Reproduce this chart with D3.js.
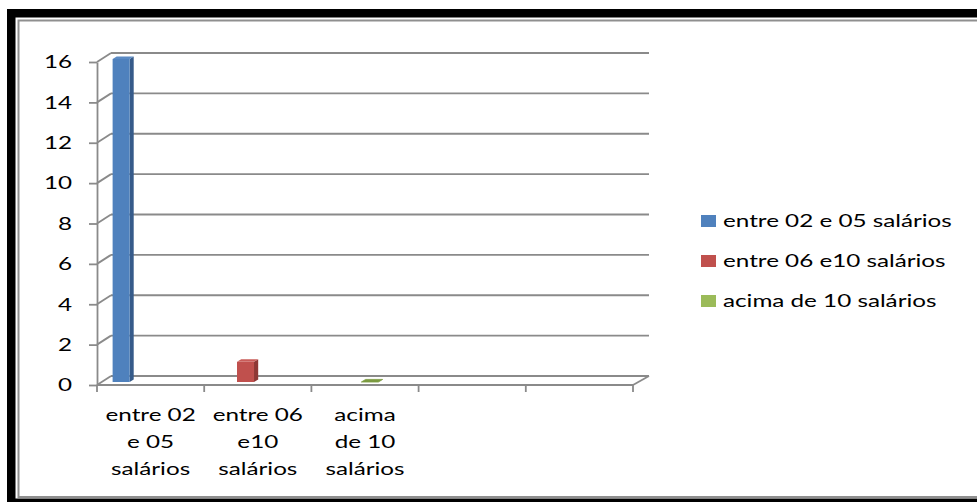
<!DOCTYPE html>
<html><head><meta charset="utf-8">
<script src="https://cdn.jsdelivr.net/npm/d3@7"></script>
<style>body{margin:0;background:#fff;overflow:hidden} svg{display:block}</style>
</head><body>
<svg id="chart" width="977" height="502"></svg>
<script>
// ---- data ----
const categories = ["entre 02\ne 05\nsalários", "entre 06\ne10\nsalários", "acima\nde 10\nsalários", "", ""];
const seriesNames = ["entre 02 e 05 salários", "entre 06 e10 salários", "acima de 10 salários"];
const seriesValues = [
  [16, null, null, null, null],
  [null, 1, null, null, null],
  [null, null, 0, null, null]
];
const yTicks = [0, 2, 4, 6, 8, 10, 12, 14, 16];
const frontColors = ["#4F81BD", "#C0504D", "#9BBB59"];
const sideColors = ["#365B8A", "#8E3835", "#6F8A3C"];
const topColors = ["#5A8AC4", "#C95C59", "#7B9A40"];

// ---- layout ----
const svg = d3.select("#chart");
const FONT = "Lato, 'Open Sans', sans-serif";
const FS = 18;

// frame
svg.append("rect").attr("x", 7).attr("y", 9).attr("width", 1000).attr("height", 520).attr("fill", "#000");
svg.append("rect").attr("x", 15.5).attr("y", 17.5).attr("width", 1000).attr("height", 481).attr("fill", "#fff");
svg.append("rect").attr("x", 18.5).attr("y", 20.5).attr("width", 1000).attr("height", 476.5)
  .attr("fill", "#fff").attr("stroke", "#8f8f8f").attr("stroke-width", 2);

// measure text stretch factor
const probe = svg.append("text").attr("font-family", FONT).attr("font-size", FS).text(seriesNames[0]);
const sx = 229 / probe.node().getComputedTextLength();
probe.remove();

const xFront = d3.scaleBand().domain(d3.range(categories.length)).range([97, 633]).paddingInner(0).paddingOuter(0);
const xBack = d3.scaleBand().domain(d3.range(categories.length)).range([111, 649]).paddingInner(0).paddingOuter(0);
const yFront = d3.scaleLinear().domain([0, 16]).range([385, 62]);
const yBack = d3.scaleLinear().domain([0, 16]).range([376, 53]);
const inner = d3.scaleBand().domain(d3.range(seriesNames.length)).range([0, xFront.bandwidth()])
  .paddingInner(0).paddingOuter(1.647).align(0.196);

const gridColor = "#8a8a8a";
const g = svg.append("g");

// back wall gridlines + side diagonals
yTicks.forEach(t => {
  g.append("line").attr("x1", xBack.range()[0]).attr("x2", xBack.range()[1])
    .attr("y1", yBack(t)).attr("y2", yBack(t)).attr("stroke", gridColor).attr("stroke-width", 1.8);
  g.append("line").attr("x1", xFront.range()[0]).attr("x2", xBack.range()[0])
    .attr("y1", yFront(t)).attr("y2", yBack(t)).attr("stroke", gridColor).attr("stroke-width", 1.8);
});
// floor right diagonal
g.append("line").attr("x1", xFront.range()[1]).attr("x2", xBack.range()[1])
  .attr("y1", yFront(0)).attr("y2", yBack(0)).attr("stroke", gridColor).attr("stroke-width", 1.8);

// y axis
const yAxis = d3.axisLeft(yFront).tickValues(yTicks).tickSize(8).tickSizeOuter(0).tickPadding(17);
const ya = svg.append("g").attr("transform", "translate(97,0)").call(yAxis);
ya.select(".domain").attr("stroke", gridColor).attr("stroke-width", 1.8);
ya.selectAll(".tick line").attr("stroke", gridColor).attr("stroke-width", 1.8);
ya.selectAll(".tick text").attr("font-family", FONT).attr("font-size", FS).attr("fill", "#000")
  .attr("x", -25 / sx).attr("transform", `scale(${sx},1)`);

// x axis (front floor edge)
const xa = svg.append("g");
xa.append("line").attr("x1", xFront.range()[0]).attr("x2", xFront.range()[1])
  .attr("y1", yFront(0)).attr("y2", yFront(0)).attr("stroke", gridColor).attr("stroke-width", 1.8);
const bounds = xFront.domain().map(d => xFront(d)).concat([xFront.range()[1]]);
bounds.forEach(b => {
  xa.append("line").attr("x1", b).attr("x2", b).attr("y1", yFront(0)).attr("y2", yFront(0) + 7)
    .attr("stroke", gridColor).attr("stroke-width", 1.8);
});
categories.forEach((c, i) => {
  if (!c) return;
  const cx = xFront(i) + xFront.bandwidth() / 2;
  const tg = xa.append("g").attr("transform", `translate(${cx},421) scale(${sx},1)`);
  c.split("\n").forEach((line, k) => {
    tg.append("text").attr("x", 0).attr("y", k * 27).attr("text-anchor", "middle")
      .attr("font-family", FONT).attr("font-size", FS).attr("fill", "#000").text(line);
  });
});

// bars (3D)
const z0 = 0.33, z1 = 0.62;
function P(ci, off, v, z) {
  const x = xFront(ci) + off + z * (xBack(ci) - xFront(ci));
  const y = yFront(v) + z * (yBack(v) - yFront(v));
  return [x, y];
}
const bars = svg.append("g");
seriesValues.forEach((vals, s) => {
  vals.forEach((v, ci) => {
    if (v === null) return;
    const l = inner(s), r = inner(s) + inner.bandwidth();
    const front = [P(ci, l, v, z0), P(ci, r, v, z0), P(ci, r, 0, z0), P(ci, l, 0, z0)];
    const side = [P(ci, r, v, z0), P(ci, r, v, z1), P(ci, r, 0, z1), P(ci, r, 0, z0)];
    const top = [P(ci, l, v, z0), P(ci, r, v, z0), P(ci, r, v, z1), P(ci, l, v, z1)];
    bars.append("polygon").attr("points", side.join(" ")).attr("fill", sideColors[s]);
    bars.append("polygon").attr("points", front.join(" ")).attr("fill", frontColors[s]);
    bars.append("polygon").attr("points", top.join(" ")).attr("fill", topColors[s])
      .attr("stroke", v === 0 ? topColors[s] : "none").attr("stroke-width", v === 0 ? 0.8 : 0);
  });
});

// legend
const lg = svg.append("g");
seriesNames.forEach((n, i) => {
  const cy = 221 + i * 40;
  lg.append("rect").attr("x", 701).attr("y", cy - 6).attr("width", 15).attr("height", 12).attr("fill", frontColors[i]);
  lg.append("text").attr("transform", `translate(723,${cy + 6}) scale(${sx},1)`)
    .attr("font-family", FONT).attr("font-size", FS).attr("fill", "#000").text(n);
});
</script>
</body></html>
